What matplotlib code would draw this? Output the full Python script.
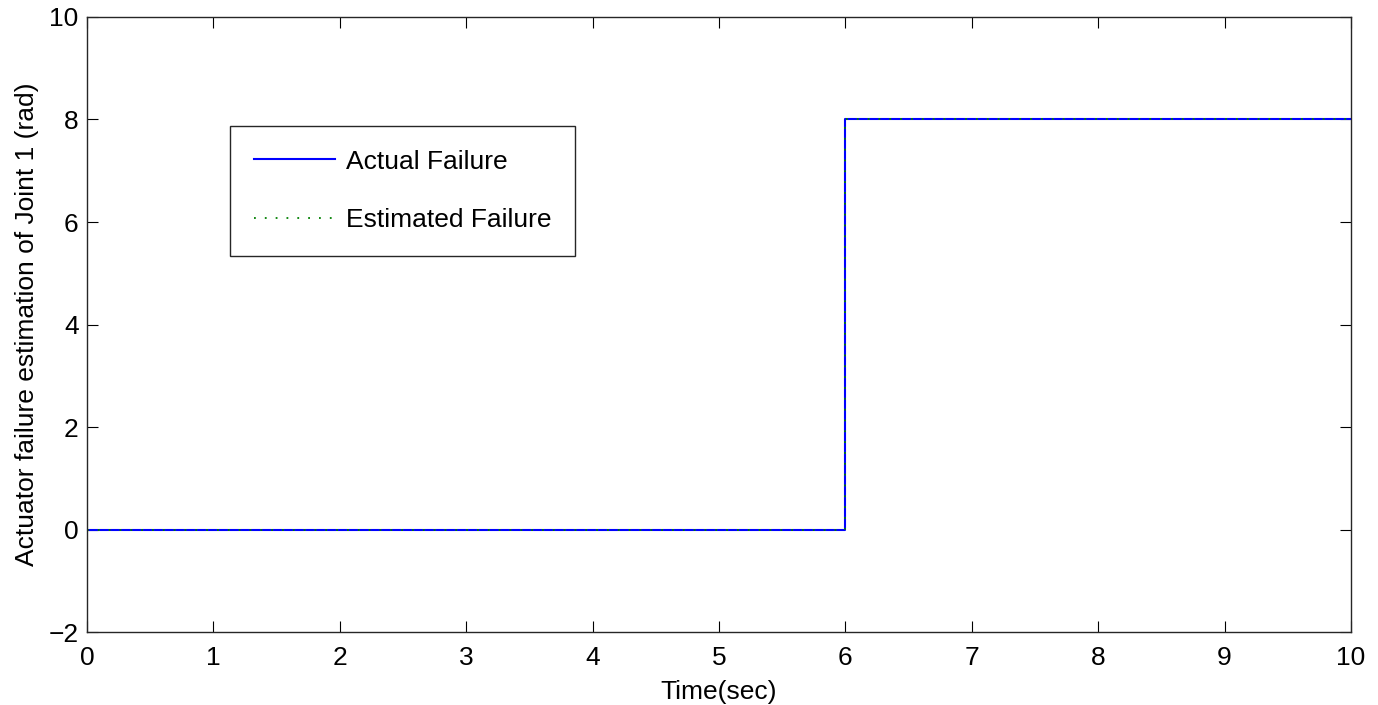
import matplotlib
matplotlib.use("Agg")
import matplotlib.pyplot as plt

# dados do degrau
t_actual = [0, 6, 6, 10]
f_actual = [0, 0, 8, 8]
t_est = [0, 6, 6, 10]
f_est = [0, 0, 8, 8]

plt.rcParams['font.family'] = ['Liberation Sans', 'DejaVu Sans']
fs = 19

fig = plt.figure(figsize=(13.78, 7.05), dpi=100)
ax = fig.add_axes([0.0631, 0.1035, 0.9173, 0.8724])

ax.plot(t_actual, f_actual, color='#0000ff', lw=1.5, label='Actual Failure')
ax.plot(t_est, f_est, color='#008000', lw=1.3, ls=(0, (1, 5)), label='Estimated Failure')

ax.set_xlim(0, 10)
ax.set_ylim(-2, 10)
ax.set_xticks(range(0, 11))
ax.set_yticks(range(-2, 11, 2))
ax.tick_params(direction='in', length=8, top=True, right=True, labelsize=fs)
ax.tick_params(axis='x', pad=10)
ax.tick_params(axis='y', pad=6)
for s in ax.spines.values():
    s.set_linewidth(1.0)
    s.set_color('#262626')

ax.set_xlabel('Time(sec)', fontsize=fs, labelpad=7)
ax.set_ylabel('Actuator failure estimation of Joint 1 (rad)', fontsize=fs, labelpad=7)

leg = ax.legend(loc='upper left', bbox_to_anchor=(0.113, 0.823), fontsize=fs,
                fancybox=False, framealpha=1, edgecolor='#262626',
                handlelength=3.1, handletextpad=0.4, labelspacing=1.3,
                borderpad=0.9, borderaxespad=0)
leg.get_frame().set_linewidth(1.0)

fig.savefig('out.png', dpi=100)
